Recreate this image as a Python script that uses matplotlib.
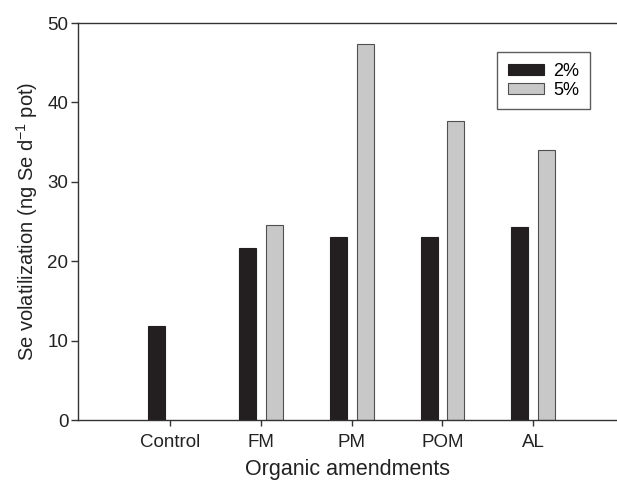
import numpy as np
import matplotlib
matplotlib.use("Agg")
import matplotlib.pyplot as plt

plt.rcParams['font.family'] = ['Liberation Sans', 'DejaVu Sans']
plt.rcParams['mathtext.fontset'] = 'custom'
plt.rcParams['mathtext.rm'] = 'Liberation Sans'

categories = ["Control", "FM", "PM", "POM", "AL"]
vals_2 = [11.8, 21.7, 23.0, 23.0, 24.3]
vals_5 = [np.nan, 24.6, 47.3, 37.6, 34.0]
series_labels = ["2%", "5%"]

fig = plt.figure(figsize=(6.17, 4.83), dpi=100)
ax = fig.add_axes([0.1264, 0.1304, 0.8736, 0.8219])

x = np.arange(len(categories))
w = 0.187
off = 0.148
ax.bar(x - off, vals_2, w, color="#231f20", edgecolor="#231f20", linewidth=0.8,
       label=series_labels[0])
ax.bar(x + off, vals_5, w, color="#c8c8c8", edgecolor="#505050", linewidth=0.8,
       label=series_labels[1])

ax.set_xlim(-1.01, 4.92)
ax.set_ylim(0, 50)
ax.set_yticks([0, 10, 20, 30, 40, 50])
ax.set_xticks(x)
ax.set_xticklabels(categories)

for s in ["left", "bottom", "top"]:
    ax.spines[s].set_color("#333333")
    ax.spines[s].set_linewidth(1.0)
ax.spines["right"].set_visible(False)

ax.tick_params(axis="y", direction="out", length=5, width=1, colors="#333333",
               labelsize=13.5, labelcolor="#222222", pad=2)
ax.tick_params(axis="x", direction="out", length=4, width=1, colors="#333333",
               labelsize=13.5, labelcolor="#222222", pad=6)

ax.set_xlabel("Organic amendments", fontsize=15.5, color="#222222", labelpad=6)
ax.set_ylabel("Se volatilization (ng Se d$^{\\mathrm{-1}}$ pot)", fontsize=14.5,
              color="#222222", labelpad=5)

leg = ax.legend(loc="upper right", bbox_to_anchor=(0.95, 0.927), fontsize=13,
                frameon=True, fancybox=False, handlelength=2.0, handleheight=0.55,
                handletextpad=0.5, borderpad=0.6, labelspacing=0.1,
                borderaxespad=0)
leg.get_frame().set_edgecolor("#333333")
leg.get_frame().set_linewidth(1.0)

fig.savefig("out.png", dpi=100)
